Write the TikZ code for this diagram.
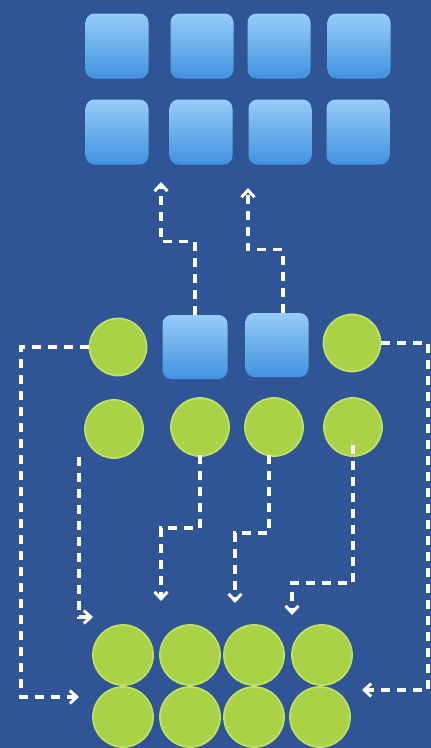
\documentclass[tikz,border=0pt]{standalone}
\usetikzlibrary{arrows.meta, positioning}

\definecolor{bgblue}{RGB}{47,85,151}
\definecolor{tiletop}{RGB}{150,204,248}
\definecolor{tilebot}{RGB}{66,146,224}
\definecolor{ballfill}{RGB}{170,210,70}
\definecolor{ballrim}{RGB}{192,224,100}

\begin{document}
\begin{tikzpicture}[
    x=1pt, y=-1pt,
    tile/.style={rectangle, rounded corners=9pt, top color=tiletop, bottom color=tilebot, draw=none, minimum width=63pt, minimum height=65pt, inner sep=0pt},
    ball/.style={circle, fill=ballfill, draw=ballrim, line width=1.8pt, minimum size=57pt, inner sep=0pt},
    link/.style={draw=white, line width=3.3pt, dash pattern=on 9pt off 7pt, -{Straight Barb[length=7pt, width=13pt, line width=3pt]}}
]

\useasboundingbox (0,0) rectangle (431,748);
\fill[bgblue] (0,0) rectangle (431,748);

\node [tile] (t11) at (117,46) {};
\node [tile] (t12) at (202,46) {};
\node [tile] (t13) at (279,46) {};
\node [tile] (t14) at (359,46) {};
\node [tile] (t21) at (117,132) {};
\node [tile] (t22) at (201,132) {};
\node [tile] (t23) at (280,132) {};
\node [tile] (t24) at (358,132) {};

\node [ball] (ml) at (118,347) {};
\node [tile, minimum width=65pt, minimum height=64pt] (m1) at (195,347) {};
\node [tile, minimum height=64pt] (m2) at (277,345) {};
\node [ball] (mr) at (352,343) {};

\node [ball, minimum size=58pt] (r1) at (114,429) {};
\node [ball, minimum size=58pt] (r2) at (200,427) {};
\node [ball, minimum size=58pt] (r3) at (274,427) {};
\node [ball, minimum size=58pt] (r4) at (353,427) {};

\node [ball, minimum size=60pt] (b11) at (123,655) {};
\node [ball, minimum size=60pt] (b12) at (190,655) {};
\node [ball, minimum size=60pt] (b13) at (254,655) {};
\node [ball, minimum size=60pt] (b14) at (322,655) {};
\node [ball, minimum size=60pt] (b21) at (123,717) {};
\node [ball, minimum size=60pt] (b22) at (190,717) {};
\node [ball, minimum size=60pt] (b23) at (254,717) {};
\node [ball, minimum size=60pt] (b24) at (320,717) {};

\coordinate (up1) at (161,182);
\coordinate (up2) at (248,188);
\coordinate (inl) at (79,697);
\coordinate (inr) at (362,690);
\coordinate (dn1) at (93,617);
\coordinate (dn2) at (161,601);
\coordinate (dn3) at (235,603);
\coordinate (dn4) at (292,615);

\path [link] (m1.north) -- ++(0,-73) -| (up1);
\path [link] ([xshift=6pt]m2.north) -- ++(0,-63) -| (up2);
\path [link] (ml.west) -| (21,697) -- (inl);
\path [link] (mr.east) -| (428,690) -- (inr);

\path [link] ([xshift=-35pt,yshift=2pt]r1.south) |- (dn1);
\path [link] ([yshift=2pt]r2.south) -- (200,528) -| (dn2);
\path [link] ([xshift=-5pt,yshift=2pt]r3.south) -- (269,533) -| (dn3);
\path [link] ([yshift=12pt]r4.south) -- (353,583) -| (dn4);

\end{tikzpicture}
\end{document}
